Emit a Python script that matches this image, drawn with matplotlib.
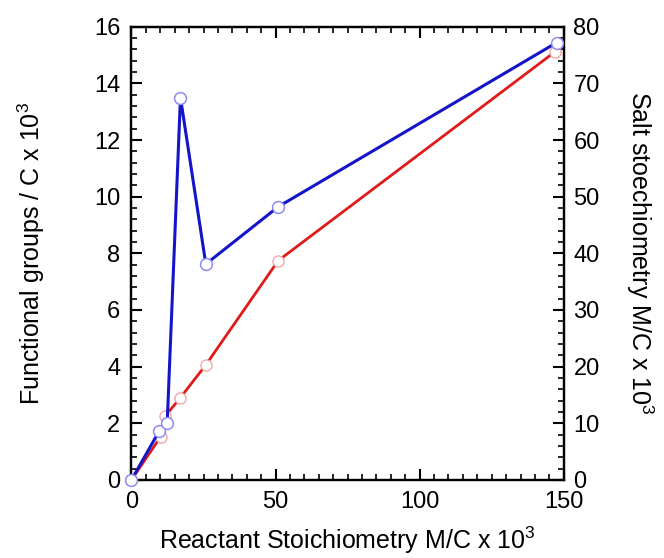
import matplotlib
matplotlib.use("Agg")
import matplotlib.pyplot as plt
from matplotlib.ticker import MultipleLocator

plt.rcParams['font.family'] = ['Liberation Sans', 'DejaVu Sans']
plt.rcParams['mathtext.fontset'] = 'custom'
plt.rcParams['mathtext.rm'] = 'Liberation Sans'
plt.rcParams['mathtext.it'] = 'Liberation Sans'

# Functional groups (left axis)
blue_x = [0, 9.6, 12.4, 17.0, 25.8, 51.0, 147.5]
blue_y = [0, 1.72, 2.02, 13.5, 7.62, 9.65, 15.44]
# Salt stoichiometry (right axis)
red_x = [0, 10.1, 11.6, 16.8, 25.8, 50.9, 147.0]
red_y = [0, 7.6, 11.2, 14.4, 20.3, 38.7, 75.6]

fig = plt.figure(figsize=(6.64, 5.58), dpi=100)
ax = fig.add_axes([0.198, 0.14, 0.651, 0.812])
ax2 = ax.twinx()

ax2.plot(red_x, red_y, color='#e01a1a', lw=2.0, marker='o', ms=8,
         mfc='white', mec='#f0a8a8', mew=1.0, zorder=3, clip_on=False)
ax.plot(blue_x, blue_y, color='#1414c8', lw=2.2, marker='o', ms=8.5,
        mfc='white', mec='#8c8cf0', mew=1.1, zorder=4, clip_on=False)
ax.set_zorder(ax2.get_zorder() + 1)
ax.patch.set_visible(False)

ax.set_xlim(0, 150)
ax.set_ylim(0, 16)
ax2.set_ylim(0, 80)

ax.xaxis.set_major_locator(MultipleLocator(50))
ax.xaxis.set_minor_locator(MultipleLocator(5))
ax.yaxis.set_major_locator(MultipleLocator(2))
ax.yaxis.set_minor_locator(MultipleLocator(0.4))
ax2.yaxis.set_major_locator(MultipleLocator(10))
ax2.yaxis.set_minor_locator(MultipleLocator(2))

for a in (ax, ax2):
    for s in a.spines.values():
        s.set_linewidth(1.6)
ax.tick_params(axis='x', which='both', direction='in', top=True, bottom=True,
               labelsize=17, pad=8)
ax.tick_params(axis='y', which='both', direction='in', left=True, right=False,
               labelsize=17, pad=8)
ax.tick_params(which='major', length=8, width=1.5)
ax.tick_params(which='minor', length=4, width=1.2)
ax2.tick_params(axis='y', which='both', direction='in', labelsize=17, pad=7)
ax2.tick_params(which='major', length=8, width=1.5)
ax2.tick_params(which='minor', length=4, width=1.2)

ax.set_xlabel(r'Reactant Stoichiometry M/C x 10$^{\mathregular{3}}$', fontsize=18, labelpad=8)
ax.set_ylabel(r'Functional groups / C x 10$^{\mathregular{3}}$', fontsize=18, labelpad=34)
ax2.set_ylabel(r'Salt stoechiometry M/C x 10$^{\mathregular{3}}$', fontsize=18,
               rotation=270, labelpad=40)

fig.savefig('out.png', dpi=100)
